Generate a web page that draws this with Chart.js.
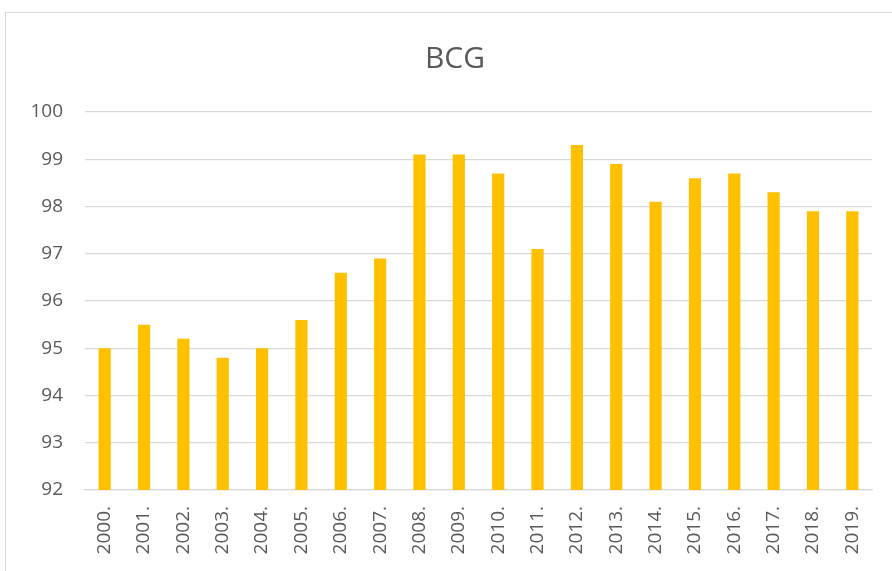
<!DOCTYPE html>
<html>
<head>
<meta charset="utf-8">
<script src="https://cdn.jsdelivr.net/npm/chart.js@4"></script>
<style>
  body { margin: 0; background: #fff; }
  #frame { position: absolute; left: 5px; top: 12px; width: 900px; height: 570px; border: 1px solid #d9d9d9; }
  #wrap { position: absolute; left: 0; top: 0; width: 892px; height: 571px; }
</style>
</head>
<body>
<div id="frame"></div>
<div id="wrap"><canvas id="chart" width="892" height="571"></canvas></div>
<script>
const years = ['2000.', '2001.', '2002.', '2003.', '2004.', '2005.', '2006.', '2007.', '2008.', '2009.',
  '2010.', '2011.', '2012.', '2013.', '2014.', '2015.', '2016.', '2017.', '2018.', '2019.'];
const bcg = [95.0, 95.5, 95.2, 94.8, 95.0, 95.6, 96.6, 96.9, 99.1, 99.1,
  98.7, 97.1, 99.3, 98.9, 98.1, 98.6, 98.7, 98.3, 97.9, 97.9];
const yMin = 92, yMax = 100;
const chartTitle = 'BCG';

const grey = '#595959';

// title drawn by hand so it can sit off-centre like the original
const titlePlugin = {
  id: 'bcgTitle',
  afterDraw(chart) {
    const c = chart.ctx;
    c.save();
    c.font = '30px "Open Sans"';
    c.fillStyle = grey;
    c.textAlign = 'center';
    c.textBaseline = 'middle';
    c.fillText(chartTitle, 455, 59);
    c.restore();
  }
};

const ctx = document.getElementById('chart').getContext('2d');
new Chart(ctx, {
  type: 'bar',
  data: {
    labels: years,
    datasets: [{ label: chartTitle, data: bcg, backgroundColor: '#FFC000', barPercentage: 0.31, categoryPercentage: 1 }]
  },
  options: {
    responsive: false,
    animation: false,
    layout: { padding: { left: 0, right: 20, top: 112, bottom: 0 } },
    plugins: {
      legend: { display: false },
      tooltip: { enabled: false },
      title: { display: false }
    },
    scales: {
      x: {
        grid: { display: false, drawTicks: false },
        border: { color: '#d9d9d9', width: 1.3 },
        ticks: { color: grey, font: { family: 'Open Sans', size: 19 }, minRotation: 90, maxRotation: 90, padding: 16, autoSkip: false },
        afterFit: s => { s.height = 81; }
      },
      y: {
        min: yMin, max: yMax,
        grid: { color: '#d9d9d9', lineWidth: 1.3, drawTicks: false },
        border: { display: false },
        ticks: { stepSize: 1, color: grey, font: { family: 'Open Sans', size: 19 }, padding: 22 },
        afterFit: s => { s.width = 85; }
      }
    }
  },
  plugins: [titlePlugin]
});
</script>
</body>
</html>
